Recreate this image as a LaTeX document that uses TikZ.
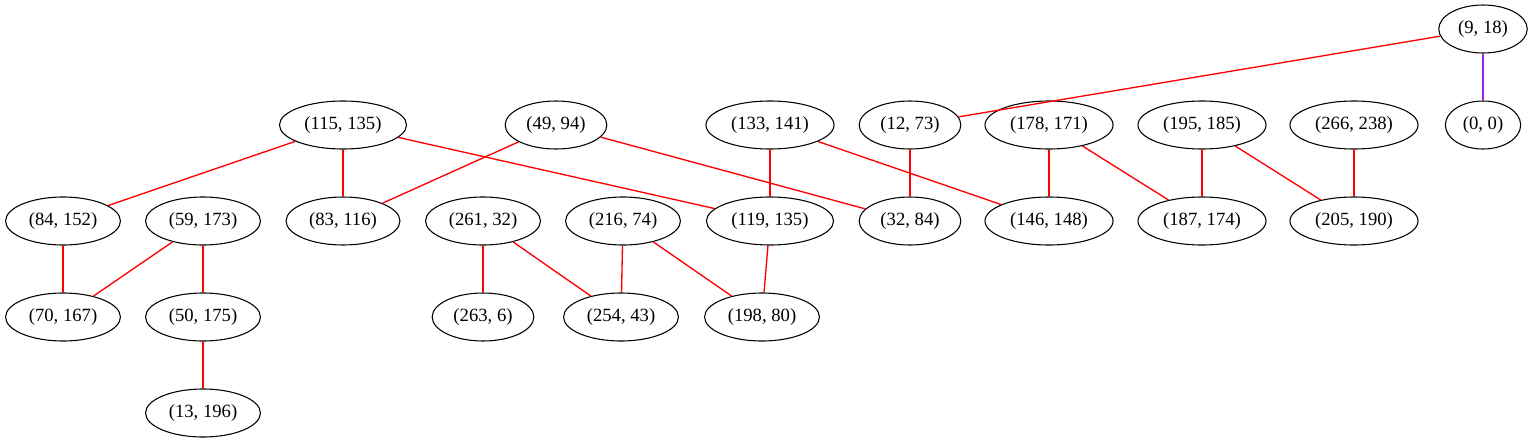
\documentclass[tikz,border=0pt]{standalone}
\usepackage{fontspec}
\setmainfont{Liberation Serif}
\usetikzlibrary{shapes.geometric}
\definecolor{gvpurple}{RGB}{160,32,240}
\begin{document}
\begin{tikzpicture}[x=0.75pt, y=-0.75pt,
  pt/.style={draw, ellipse, line width=0.8pt, inner xsep=4.8pt, inner ysep=0pt, minimum height=36pt, font=\fontsize{14}{16}\selectfont},
  edge/.style={red, line width=1pt}]
\useasboundingbox (0,0) rectangle (1535,443);
% rank 1
\node[pt] (n9)   at (1483,29) {(9, 18)};
% rank 2
\node[pt] (n115) at (343,125)  {(115, 135)};
\node[pt] (n49)  at (556,125)  {(49, 94)};
\node[pt] (n133) at (770,125)  {(133, 141)};
\node[pt] (n12)  at (910,125)  {(12, 73)};
\node[pt] (n178) at (1049,125) {(178, 171)};
\node[pt] (n195) at (1202,125) {(195, 185)};
\node[pt] (n266) at (1354,125) {(266, 238)};
\node[pt] (n0)   at (1483,125) {(0, 0)};
% rank 3
\node[pt] (n84)  at (63,221)   {(84, 152)};
\node[pt] (n59)  at (203,221)  {(59, 173)};
\node[pt] (n83)  at (343,221)  {(83, 116)};
\node[pt] (n261) at (483,221)  {(261, 32)};
\node[pt] (n216) at (623,221)  {(216, 74)};
\node[pt] (n119) at (770,221)  {(119, 135)};
\node[pt] (n32)  at (910,221)  {(32, 84)};
\node[pt] (n146) at (1049,221) {(146, 148)};
\node[pt] (n187) at (1202,221) {(187, 174)};
\node[pt] (n205) at (1354,221) {(205, 190)};
% rank 4
\node[pt] (n70)  at (63,317)   {(70, 167)};
\node[pt] (n50)  at (203,317)  {(50, 175)};
\node[pt] (n263) at (483,317)  {(263, 6)};
\node[pt] (n254) at (621,317)  {(254, 43)};
\node[pt] (n198) at (762,317)  {(198, 80)};
% rank 5
\node[pt] (n13)  at (203,413)  {(13, 196)};

\draw[edge, gvpurple] (n9) -- (n0);
\foreach \a/\b in {n9/n12, n115/n84, n115/n83, n115/n119, n49/n83, n49/n32,
    n133/n119, n133/n146, n12/n32, n178/n146, n178/n187, n195/n187, n195/n205,
    n266/n205, n84/n70, n59/n70, n59/n50, n261/n263, n261/n254, n216/n254,
    n216/n198, n119/n198, n50/n13}
  \draw[edge] (\a) -- (\b);
\end{tikzpicture}
\end{document}
